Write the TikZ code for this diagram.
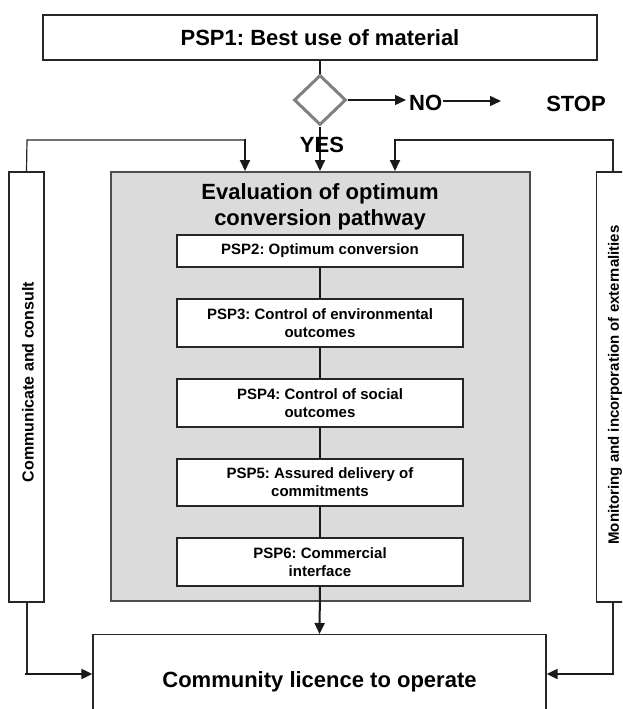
\documentclass[tikz,border=0pt]{standalone}
\usepackage{fontspec}
\setmainfont{Liberation Sans}
\usetikzlibrary{arrows.meta,shapes.geometric}
\frenchspacing

\tikzset{
  frame/.style={draw=black!85, line width=1.3pt, fill=white, inner sep=0pt, align=center, font=\bfseries},
  pspbox/.style={frame, minimum width=286pt, minimum height=48pt, font=\fontsize{15}{18}\selectfont\bfseries},
  sidebox/.style={frame, minimum width=35pt, minimum height=430pt},
  flow/.style={draw=black!90, line width=2pt},
  feed/.style={draw=black!85, line width=1.2pt},
  tip/.style={-{Triangle[length=11pt,width=10pt]}},
  big/.style={font=\fontsize{22}{26}\selectfont\bfseries},
}

\begin{document}
\begin{tikzpicture}[x=1pt,y=-1pt]
\useasboundingbox (0,0) rectangle (622,709);
\clip (0,0) rectangle (622,709);

% top decision
\node[frame, big, minimum width=554pt, minimum height=45pt] (psp1) at (320,37.5) {PSP1: Best use of material};
\node[diamond, draw=black!50, line width=3pt, fill=white, inner sep=0pt,
      minimum width=52pt, minimum height=50pt] (dec) at (320,100) {};
\draw[flow, line width=1.4pt] (psp1.south) -- (dec.north);

% NO branch (text cut off at its lower edge)
\begin{scope}
  \clip (400,80) rectangle (622,111.5);
  \node[big, anchor=west, inner sep=0pt] (no) at (409,103) {NO};
  \node[big, inner sep=0pt] (stop) at (576,104) {STOP};
\end{scope}
\draw[flow, line width=1.4pt, tip] (dec.east) -- (406,100);
\coordinate (noend) at (443,101);
\draw[flow, line width=1.4pt, tip] (noend) -- (501,101);

% evaluation block
\node[draw=black!70, line width=1.3pt, fill=black!14, minimum width=419pt, minimum height=429pt, inner sep=0pt] (eval) at (320.5,386.5) {};
\node[big, align=center, inner sep=0pt] (title) at (320,207) {Evaluation of optimum\\conversion pathway};

\node[pspbox, minimum height=32pt] (psp2) at (320,251) {PSP2: Optimum conversion};
\node[pspbox] (psp3) at (320,323) {PSP3: Control of environmental\\outcomes};
\node[pspbox] (psp4) at (320,403) {PSP4: Control of social\\outcomes};
\node[pspbox, minimum height=47pt] (psp5) at (320,482.5) {PSP5: Assured delivery of\\commitments};
\node[pspbox] (psp6) at (320,562) {PSP6: Commercial\\interface};

\draw[flow] (psp2) -- (psp3);
\draw[flow] (psp3) -- (psp4);
\draw[flow] (psp4) -- (psp5);
\draw[flow] (psp5) -- (psp6);

% side boxes
\node[sidebox] (comm) at (26.5,387) {};
\node[font=\fontsize{16}{18}\selectfont\bfseries, rotate=90, inner sep=0pt] at (28,382) {Communicate and consult};
\node[sidebox] (mon) at (614,387) {};
\node[font=\fontsize{15}{18}\selectfont\bfseries, rotate=90, inner sep=0pt] at (615,385) {Monitoring and incorporation of externalities};

% outcome
\node[frame, big, minimum width=453pt, minimum height=120pt, anchor=north] (lic) at (319.5,634) {};
\node[big, inner sep=0pt] (lictext) at (319.5,682) {Community licence to operate};

% YES path into the evaluation block
\draw[flow, tip] (dec.south) -- (320,171);
\node[big, inner sep=0pt] (yes) at (322,145) {YES};

% feeds from the side boxes
\coordinate (lt) at (27,140);
\coordinate (rt) at (613,140);
\draw[feed] (comm.north) -- (lt) -- (245,140);
\draw[flow, tip] (245,139.4) -- (245,171);
\draw[feed] (mon.north -| rt) -- (rt) -- (395,140);
\draw[flow, tip] (395,139.4) -- (395,171);

% into the outcome box
\draw[flow, tip] (psp6.south) -- (lic.north);
\coordinate (lb) at (27,674);
\coordinate (rb) at (613,674);
\draw[feed] (27,602) -- (lb);
\draw[flow, tip] (25,674) -- (lic.west |- lb);
\draw[feed] (613,602) -- (rb);
\draw[flow, tip] (614,674) -- (lic.east |- rb);
\end{tikzpicture}
\end{document}
